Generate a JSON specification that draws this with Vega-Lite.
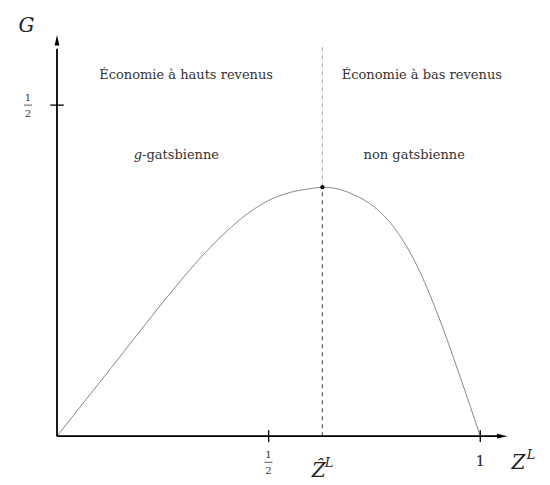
{
  "$schema": "https://vega.github.io/schema/vega-lite/v6.json",
  "width": 491,
  "height": 480,
  "autosize": {"type": "none"},
  "padding": {"left": 57, "right": 2, "top": 2.5, "bottom": 2.5},
  "config": {"view": {"stroke": null}},
  "datasets": {
    "curve": [
      {"z": 0, "g": 0},
      {"z": 0.129, "g": 0.104},
      {"z": 0.255, "g": 0.206},
      {"z": 0.3, "g": 0.241},
      {"z": 0.35, "g": 0.277},
      {"z": 0.4, "g": 0.309},
      {"z": 0.45, "g": 0.336},
      {"z": 0.5, "g": 0.356},
      {"z": 0.55, "g": 0.368},
      {"z": 0.6, "g": 0.374},
      {"z": 0.626, "g": 0.376},
      {"z": 0.65, "g": 0.375},
      {"z": 0.7, "g": 0.365},
      {"z": 0.75, "g": 0.346},
      {"z": 0.8, "g": 0.312},
      {"z": 0.85, "g": 0.258},
      {"z": 0.9, "g": 0.183},
      {"z": 0.95, "g": 0.094},
      {"z": 1, "g": 0}
    ],
    "axes": [
      {"z": 0, "g": 0, "z2": 1.045, "g2": 0},
      {"z": 0, "g": 0, "z2": 0, "g2": 0.585}
    ],
    "ticks": [
      {"z": 0.5, "g": -0.009, "z2": 0.5, "g2": 0.009},
      {"z": 1, "g": -0.009, "z2": 1, "g2": 0.009},
      {"z": -0.016, "g": 0.5, "z2": 0.016, "g2": 0.5}
    ],
    "fracbars": [
      {"z": -0.078, "g": 0.5, "z2": -0.059, "g2": 0.5},
      {"z": 0.49, "g": -0.0395, "z2": 0.509, "g2": -0.0395}
    ],
    "fracdigits": [
      {"label": "1", "z": -0.0685, "g": 0.511},
      {"label": "2", "z": -0.0685, "g": 0.487},
      {"label": "1", "z": 0.4995, "g": -0.028},
      {"label": "2", "z": 0.4995, "g": -0.052}
    ],
    "regions": [
      {"label": "Économie à hauts revenus", "z": 0.305, "g": 0.545},
      {"label": "Économie à bas revenus", "z": 0.862, "g": 0.545},
      {"label": "non gatsbienne", "z": 0.844, "g": 0.424}
    ],
    "gregion": [
      {"label": "g", "z": 0.201, "g": 0.424}
    ],
    "gsuffix": [
      {"label": "-gatsbienne", "z": 0.201, "g": 0.424}
    ],
    "symbols": [
      {"label": "G", "z": -0.072, "g": 0.62},
      {"label": "Ẑ", "z": 0.618, "g": -0.052},
      {"label": "Z", "z": 1.09, "g": -0.04}
    ],
    "supers": [
      {"label": "L", "z": 0.643, "g": -0.04},
      {"label": "L", "z": 1.12, "g": -0.029}
    ],
    "one": [
      {"label": "1", "z": 1, "g": -0.037}
    ]
  },
  "encoding": {
    "x": {"field": "z", "type": "quantitative", "scale": {"domain": [0, 1.16], "nice": false, "zero": false}, "axis": null},
    "y": {"field": "g", "type": "quantitative", "scale": {"domain": [-0.07, 0.655], "nice": false, "zero": false}, "axis": null}
  },
  "layer": [
    {
      "data": {"values": [{"z": 0.627, "g": 0.376, "g2": 0.594}]},
      "mark": {"type": "rule", "color": "#aaaaaa", "strokeWidth": 1, "strokeDash": [4, 4]},
      "encoding": {"y2": {"field": "g2"}}
    },
    {
      "data": {"values": [{"z": 0.627, "g": 0, "g2": 0.376}]},
      "mark": {"type": "rule", "color": "#666666", "strokeWidth": 1.3, "strokeDash": [4, 4]},
      "encoding": {"y2": {"field": "g2"}}
    },
    {
      "data": {"name": "curve"},
      "mark": {"type": "line", "color": "#888888", "strokeWidth": 1, "interpolate": "monotone"}
    },
    {
      "data": {"name": "axes"},
      "mark": {"type": "rule", "color": "#000000", "strokeWidth": 1.8},
      "encoding": {"x2": {"field": "z2"}, "y2": {"field": "g2"}}
    },
    {
      "data": {"values": [{"z": 1.052, "g": 0}]},
      "mark": {"type": "point", "shape": "M-1,-0.45L1,0L-1,0.45Z", "filled": true, "color": "#000000", "opacity": 1, "size": 110}
    },
    {
      "data": {"values": [{"z": 0, "g": 0.598}]},
      "mark": {"type": "point", "shape": "M-0.45,1L0,-1L0.45,1Z", "filled": true, "color": "#000000", "opacity": 1, "size": 110}
    },
    {
      "data": {"name": "ticks"},
      "mark": {"type": "rule", "color": "#000000", "strokeWidth": 1.3},
      "encoding": {"x2": {"field": "z2"}, "y2": {"field": "g2"}}
    },
    {
      "data": {"name": "fracbars"},
      "mark": {"type": "rule", "color": "#333333", "strokeWidth": 0.8},
      "encoding": {"x2": {"field": "z2"}, "y2": {"field": "g2"}}
    },
    {
      "data": {"name": "fracdigits"},
      "mark": {"type": "text", "font": "DejaVu Serif", "fontSize": 10, "color": "#333333", "align": "center", "baseline": "middle"},
      "encoding": {"text": {"field": "label"}}
    },
    {
      "data": {"values": [{"z": 0.627, "g": 0.376}]},
      "mark": {"type": "point", "shape": "circle", "filled": true, "color": "#000000", "opacity": 1, "size": 18}
    },
    {
      "data": {"name": "regions"},
      "mark": {"type": "text", "font": "DejaVu Serif", "fontSize": 13, "color": "#333333", "align": "center", "baseline": "middle"},
      "encoding": {"text": {"field": "label"}}
    },
    {
      "data": {"name": "gregion"},
      "mark": {"type": "text", "font": "DejaVu Serif", "fontStyle": "italic", "fontSize": 13, "color": "#333333", "align": "right", "baseline": "middle"},
      "encoding": {"text": {"field": "label"}}
    },
    {
      "data": {"name": "gsuffix"},
      "mark": {"type": "text", "font": "DejaVu Serif", "fontSize": 13, "color": "#333333", "align": "left", "baseline": "middle"},
      "encoding": {"text": {"field": "label"}}
    },
    {
      "data": {"name": "symbols"},
      "mark": {"type": "text", "font": "DejaVu Serif", "fontStyle": "italic", "fontSize": 20, "color": "#222222", "align": "center", "baseline": "middle"},
      "encoding": {"text": {"field": "label"}}
    },
    {
      "data": {"name": "supers"},
      "mark": {"type": "text", "font": "DejaVu Serif", "fontStyle": "italic", "fontSize": 13, "color": "#222222", "align": "center", "baseline": "middle"},
      "encoding": {"text": {"field": "label"}}
    },
    {
      "data": {"name": "one"},
      "mark": {"type": "text", "font": "DejaVu Serif", "fontSize": 15, "color": "#222222", "align": "center", "baseline": "middle"},
      "encoding": {"text": {"field": "label"}}
    }
  ]
}
